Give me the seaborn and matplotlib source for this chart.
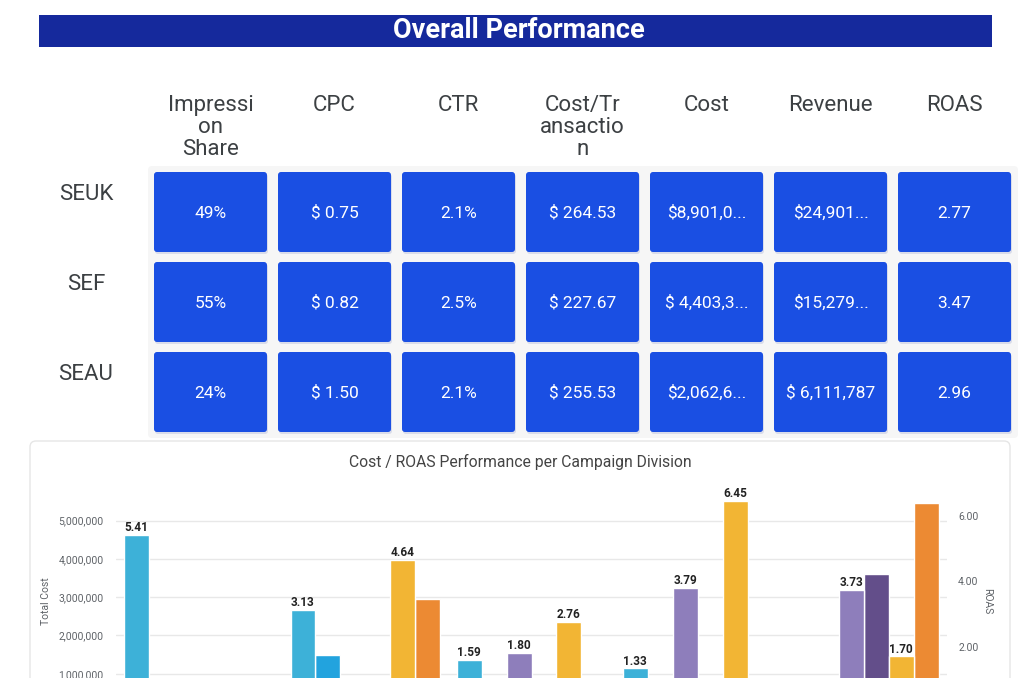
import pandas as pd
import seaborn as sns
import matplotlib.pyplot as plt
from matplotlib.patches import FancyBboxPatch, Rectangle
from matplotlib.ticker import FuncFormatter, MultipleLocator

# KPI table
regions = ["SEUK", "SEF", "SEAU"]
kpi_headers = ["Impressi\non\nShare", "CPC", "CTR", "Cost/Tr\nansactio\nn", "Cost", "Revenue", "ROAS"]
kpi_seuk = ["49%", "$ 0.75", "2.1%", "$ 264.53", "$8,901,0...", "$24,901...", "2.77"]
kpi_sef = ["55%", "$ 0.82", "2.5%", "$ 227.67", "$ 4,403,3...", "$15,279...", "3.47"]
kpi_seau = ["24%", "$ 1.50", "2.1%", "$ 255.53", "$2,062,6...", "$ 6,111,787", "2.96"]

# bar chart (campaign division names are cut off in the source)
divisions = ["Division 1", "Division 2", "Division 3", "Division 4", "Division 5"]
series_names = ["SEAU ROAS", "SEAU Cost", "SEF ROAS", "SEF Cost", "SEUK ROAS", "SEUK Cost"]
series_metric = ["ROAS", "Cost", "ROAS", "Cost", "ROAS", "Cost"]
series_colors = ["#3db1d8", "#22a3de", "#8e7ebb", "#634e8a", "#f2b534", "#ec8a33"]
roas_seau = [5.41, 3.13, 1.59, 1.33, None]
cost_seau = [None, 1.49e6, None, None, None]
roas_sef = [None, None, 1.80, 3.79, 3.73]
cost_sef = [None, None, None, None, 3.60e6]
roas_seuk = [None, 4.64, 2.76, 6.45, 1.70]
cost_seuk = [None, 2.94e6, None, None, 5.47e6]

rows = []
for name, metric, vals in zip(series_names, series_metric,
                              [roas_seau, cost_seau, roas_sef, cost_sef, roas_seuk, cost_seuk]):
    for div, v in zip(divisions, vals):
        if v is not None:
            rows.append({"division": div, "series": name, "metric": metric, "value": v})
df = pd.DataFrame(rows)
palette = dict(zip(series_names, series_colors))

sns.set_style("white")
plt.rcParams['font.family'] = ['Roboto', 'DejaVu Sans']

W, H = 1032, 678
fig = plt.figure(figsize=(W / 100, H / 100), dpi=100)
fig.patch.set_facecolor("white")

# background layer in pixel coordinates
bg = fig.add_axes([0, 0, 1, 1])
bg.set_xlim(0, W)
bg.set_ylim(H, 0)
bg.axis("off")

bg.add_patch(Rectangle((39, 15), 953, 32, facecolor="#15299c", edgecolor="none"))
bg.text(519, 31, "Overall Performance", color="white", fontsize=19.5, fontweight="bold",
        ha="center", va="center")

# faint table backdrop
bg.add_patch(FancyBboxPatch((148, 166), 870, 272, boxstyle="round,pad=0,rounding_size=4",
                            facecolor="#f6f6f6", edgecolor="none"))

col_x0, col_pitch, card_w = 154, 124, 113
row_y0, row_pitch, card_h = 172, 90, 80
for j, head in enumerate(kpi_headers):
    bg.text(col_x0 + j * col_pitch + card_w / 2, 95, head, fontsize=16, color="#3c4043",
            ha="center", va="top", linespacing=1.05)
for i, (reg, vals) in enumerate(zip(regions, [kpi_seuk, kpi_sef, kpi_seau])):
    y = row_y0 + i * row_pitch
    bg.text(86, y + 23, reg, fontsize=16, color="#3c4043", ha="center", va="center")
    for j, val in enumerate(vals):
        x = col_x0 + j * col_pitch
        bg.add_patch(FancyBboxPatch((x + 1, y + 2), card_w, card_h,
                                    boxstyle="round,pad=0,rounding_size=3",
                                    facecolor="#d9dcea", edgecolor="none"))
        bg.add_patch(FancyBboxPatch((x, y), card_w, card_h,
                                    boxstyle="round,pad=0,rounding_size=3",
                                    facecolor="#1a4fe3", edgecolor="none"))
        bg.text(x + card_w / 2, y + card_h / 2 + 1, val, color="white", fontsize=12.5,
                ha="center", va="center")

# chart panel
bg.add_patch(FancyBboxPatch((30, 441), 980, 260, boxstyle="round,pad=0,rounding_size=6",
                            facecolor="white", edgecolor="#e6e6e6", linewidth=1))
bg.text(520, 462, "Cost / ROAS Performance per Campaign Division", fontsize=11.3,
        color="#444444", ha="center", va="center")

# bar chart axes (bottom part is cropped off in the reference)
ax_cost = fig.add_axes([116 / W, (H - 712) / H, 831 / W, 222 / H])
ax_cost.set_facecolor("none")
ax_roas = ax_cost.twinx()

sns.barplot(data=df[df.metric == "Cost"], x="division", y="value", hue="series",
            order=divisions, hue_order=series_names, palette=palette, width=0.9,
            errorbar=None, saturation=1, legend=False, ax=ax_cost)
sns.barplot(data=df[df.metric == "ROAS"], x="division", y="value", hue="series",
            order=divisions, hue_order=series_names, palette=palette, width=0.9,
            errorbar=None, saturation=1, legend=False, ax=ax_roas)

for c in ax_roas.containers:
    ax_roas.bar_label(c, fmt="%.2f", padding=0.5, fontsize=8.5, fontweight="bold", color="#222222")

ax_cost.set_ylim(0, 5.8e6)
ax_roas.set_ylim(0, 6.78)
ax_cost.yaxis.set_major_locator(MultipleLocator(1e6))
ax_cost.yaxis.set_major_formatter(FuncFormatter(lambda v, p: f"{v:,.0f}"))
ax_roas.yaxis.set_major_locator(MultipleLocator(2))
ax_roas.yaxis.set_major_formatter(FuncFormatter(lambda v, p: f"{v:.2f}"))
ax_cost.grid(axis="y", color="#e8e8e8", linewidth=1)
ax_cost.set_axisbelow(True)
ax_roas.grid(False)

for ax in (ax_cost, ax_roas):
    for s in ax.spines.values():
        s.set_visible(False)
    ax.tick_params(length=0, labelsize=7.5, labelcolor="#5f6368")
    ax.tick_params(axis="x", labelbottom=False)
    ax.set_xlabel("")
ax_cost.tick_params(axis="y", pad=9)
ax_roas.tick_params(axis="y", pad=8)
ax_cost.set_ylabel("Total Cost", fontsize=7.5, color="#5f6368", labelpad=5)
ax_roas.set_ylabel("ROAS", fontsize=7.5, color="#5f6368", rotation=270, labelpad=10)

fig.savefig("out.png", dpi=100)
